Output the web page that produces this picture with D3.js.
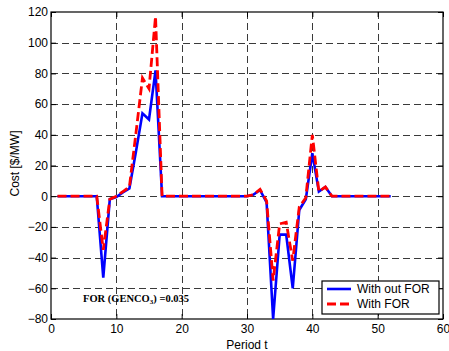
<!DOCTYPE html>
<meta charset="utf-8">
<style>
body { margin: 0; background: white; }
svg { display: block; }
.tick text { font-family: "Liberation Sans", Arial, sans-serif; font-size: 12px; fill: #000; }
.axis path, .axis line { stroke: #000; }
.grid line { stroke: #3a3a3a; stroke-dasharray: 7,4; }
</style>
<svg width="449" height="351"></svg>
<script src="https://d3js.org/d3.v7.min.js"></script>
<script>
// period t = 1..52
var periods = d3.range(1, 53);
var withoutFOR = [0, 0, 0, 0, 0, 0, 0, -53, -2, -0.5, 2.5, 5, 29, 54, 50, 82,
  0, 0, 0, 0, 0, 0, 0, 0, 0, 0, 0, 0, 0, 0,
  1, 4, -4, -80, -25, -25, -60, -9, -2, 28, 3, 6,
  0, 0, 0, 0, 0, 0, 0, 0, 0, 0];
var withFOR = [0, 0, 0, 0, 0, 0, 0, -35, -2, 0, 3, 6, 41, 77, 70, 117,
  0, 0, 0, 0, 0, 0, 0, 0, 0, 0, 0, 0, 0, 0,
  1, 4.5, -3, -55, -18, -17, -42, -7, -1, 40, 3, 6,
  0, 0, 0, 0, 0, 0, 0, 0, 0, 0];
var xTicks = [0, 10, 20, 30, 40, 50, 60];
var yTicks = [-80, -60, -40, -20, 0, 20, 40, 60, 80, 100, 120];

var svg = d3.select("svg"),
    margin = {top: 12, right: 6, bottom: 32, left: 51},
    width = 443 - margin.left,
    height = 319 - margin.top;

var x = d3.scaleLinear().domain([0, 60]).range([0, width]);
var y = d3.scaleLinear().domain([-80, 120]).range([height, 0]);

var g = svg.append("g")
    .attr("transform", "translate(" + margin.left + "," + margin.top + ")");

// grid
g.append("g").attr("class", "grid")
  .selectAll("line")
  .data(xTicks.slice(1, -1))
  .enter().append("line")
    .attr("x1", function(d) { return Math.round(x(d)) + 0.5; })
    .attr("x2", function(d) { return Math.round(x(d)) + 0.5; })
    .attr("y1", 0).attr("y2", height);

g.append("g").attr("class", "grid")
  .selectAll("line")
  .data(yTicks.slice(1, -1))
  .enter().append("line")
    .attr("y1", function(d) { return Math.round(y(d)) + 0.5; })
    .attr("y2", function(d) { return Math.round(y(d)) + 0.5; })
    .attr("x1", 0).attr("x2", width);

// axes with inward ticks
g.append("g").attr("class", "axis")
    .attr("transform", "translate(0," + height + ")")
    .call(d3.axisBottom(x).tickValues(xTicks).tickSize(-5).tickPadding(5).tickSizeOuter(0));
g.append("g").attr("class", "axis")
    .call(d3.axisLeft(y).tickValues(yTicks).tickSize(-5).tickPadding(3).tickSizeOuter(0));
g.append("g").attr("class", "axis")
    .call(d3.axisTop(x).tickValues(xTicks).tickSize(-5).tickFormat("").tickSizeOuter(0));
g.append("g").attr("class", "axis")
    .attr("transform", "translate(" + width + ",0)")
    .call(d3.axisRight(y).tickValues(yTicks).tickSize(-5).tickFormat("").tickSizeOuter(0));

g.selectAll(".axis .domain").remove();
g.append("rect")
    .attr("width", width).attr("height", height)
    .attr("fill", "none").attr("stroke", "#000").attr("stroke-width", 1.2);

// lines
var line = d3.line()
    .x(function(d, i) { return x(periods[i]); })
    .y(function(d) { return y(d); });

g.append("path")
    .datum(withoutFOR)
    .attr("fill", "none")
    .attr("stroke", "#0000ff")
    .attr("stroke-width", 2.6)
    .attr("d", line);

g.append("path")
    .datum(withFOR)
    .attr("fill", "none")
    .attr("stroke", "#ff0000")
    .attr("stroke-width", 2.8)
    .attr("stroke-dasharray", "9,4")
    .attr("d", line);

// annotation
g.append("text")
    .attr("x", 32)
    .attr("y", 290)
    .style("font-family", "'Liberation Serif', 'Times New Roman', serif")
    .style("font-weight", "bold")
    .style("font-size", "10.5px")
    .html("FOR (GENCO<tspan font-size='7px' dy='2'>3</tspan><tspan dy='-2'>) =0.035</tspan>");

// legend
var legend = g.append("g").attr("transform", "translate(271,269)");
legend.append("rect")
    .attr("width", 117).attr("height", 33)
    .attr("fill", "white").attr("stroke", "#000").attr("stroke-width", 1.2);
var items = [
  {name: "With out FOR", color: "#0000ff", dash: null, w: 2.6},
  {name: "With FOR", color: "#ff0000", dash: "9,4", w: 2.8}
];
items.forEach(function(d, i) {
  var yy = 8 + i * 15;
  legend.append("line")
      .attr("x1", 5).attr("x2", 29)
      .attr("y1", yy).attr("y2", yy)
      .attr("stroke", d.color).attr("stroke-width", d.w)
      .attr("stroke-dasharray", d.dash);
  legend.append("text")
      .attr("x", 35).attr("y", yy + 4)
      .style("font-family", "'Liberation Sans', Arial, sans-serif")
      .style("font-size", "12px")
      .text(d.name);
});

// axis titles
svg.append("text")
    .attr("x", margin.left + width / 2)
    .attr("y", 349)
    .attr("text-anchor", "middle")
    .style("font-family", "'Liberation Sans', Arial, sans-serif")
    .style("font-size", "12px")
    .text("Period t");

svg.append("text")
    .attr("transform", "translate(19," + (margin.top + height / 2 - 2) + ") rotate(-90)")
    .attr("text-anchor", "middle")
    .style("font-family", "'Liberation Sans', Arial, sans-serif")
    .style("font-size", "12px")
    .text("Cost [$/MW]");
</script>
